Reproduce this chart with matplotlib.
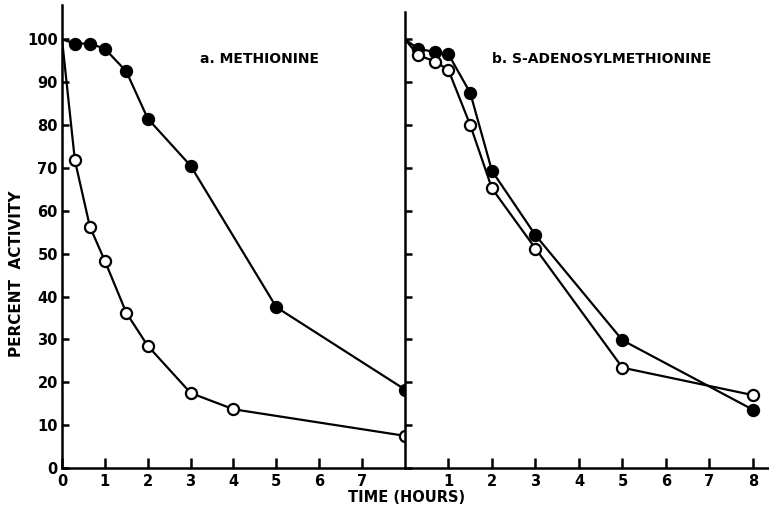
import matplotlib
matplotlib.use("Agg")
import matplotlib.pyplot as plt

# a. methionine
met_x_closed = [0, 0.3, 0.65, 1, 1.5, 2, 3, 5, 8]
met_y_closed = [100, 99, 99, 97.8, 92.5, 81.5, 70.5, 37.5, 18.3]
met_x_open = [0, 0.3, 0.65, 1, 1.5, 2, 3, 4, 8]
met_y_open = [100, 71.8, 56.3, 48.3, 36.2, 28.5, 17.5, 13.7, 7.5]

# b. s-adenosylmethionine
sam_x_closed = [0, 0.3, 0.7, 1, 1.5, 2, 3, 5, 8]
sam_y_closed = [100, 97.8, 97, 96.5, 87.5, 69.3, 54.3, 29.8, 13.6]
sam_x_open = [0, 0.3, 0.7, 1, 1.5, 2, 3, 5, 8]
sam_y_open = [100, 96.3, 94.8, 92.8, 80, 65.2, 51.2, 23.4, 17]

yticks = [0, 10, 20, 30, 40, 50, 60, 70, 80, 90, 100]
left_xticks = [0, 1, 2, 3, 4, 5, 6, 7]
right_xticks = [1, 2, 3, 4, 5, 6, 7, 8]

plt.rcParams['font.family'] = ['DejaVu Sans']
plt.rcParams['font.weight'] = 'bold'

fig = plt.figure(figsize=(7.69, 5.08), dpi=100)
ax1 = fig.add_axes([62/769, 40/508, 343/769, 463/508])
ax2 = fig.add_axes([405/769, 40/508, 364/769, 463/508])

lw = 1.6
ms = 8

def series(ax, x, y, filled):
    ax.plot(x, y, '-', color='black', linewidth=lw, marker='o', markersize=ms,
            markerfacecolor='black' if filled else 'white',
            markeredgecolor='black', markeredgewidth=1.6,
            markevery=slice(1, None), zorder=3)

series(ax1, met_x_closed, met_y_closed, True)
series(ax1, met_x_open, met_y_open, False)
series(ax2, sam_x_closed, sam_y_closed, True)
series(ax2, sam_x_open, sam_y_open, False)

for ax in (ax1, ax2):
    ax.set_ylim(0, 108)
    ax.spines['top'].set_visible(False)
    ax.spines['right'].set_visible(False)
    ax.spines['left'].set_linewidth(1.8)
    ax.spines['bottom'].set_linewidth(1.8)
    ax.set_yticks(yticks)
    ax.tick_params(axis='both', direction='in', width=1.8, labelsize=10.5)
    ax.tick_params(axis='y', length=5)
    ax.tick_params(axis='x', length=7, pad=4.5)

ax1.set_xlim(0, 8)
ax1.set_xticks(left_xticks)
ax1.set_xticklabels([str(t) for t in left_xticks])
ax1.set_yticklabels([str(t) for t in yticks])
ax1.tick_params(axis='y', pad=3)

ax2.set_xlim(0, 8.37)
ax2.spines['left'].set_bounds(0, 106.3)
ax2.set_xticks(right_xticks)
ax2.set_xticklabels([str(t) for t in right_xticks])
ax2.set_yticklabels([])

fig.text(17/769, 1 - 274/508, 'PERCENT  ACTIVITY', rotation=90, ha='center',
         va='center', fontsize=11, fontweight='bold')
fig.text(407/769, 1 - 497/508, 'TIME (HOURS)', ha='center', va='center',
         fontsize=10.5, fontweight='bold')

ax1.text((200 - 62) / 343, (468 - 59) / 463, 'a. METHIONINE', transform=ax1.transAxes,
         fontsize=10, fontweight='bold', ha='left', va='center')
ax2.text((492 - 405) / 364, (468 - 59) / 463, 'b. S-ADENOSYLMETHIONINE', transform=ax2.transAxes,
         fontsize=10, fontweight='bold', ha='left', va='center')

fig.savefig('out.png', dpi=100)
